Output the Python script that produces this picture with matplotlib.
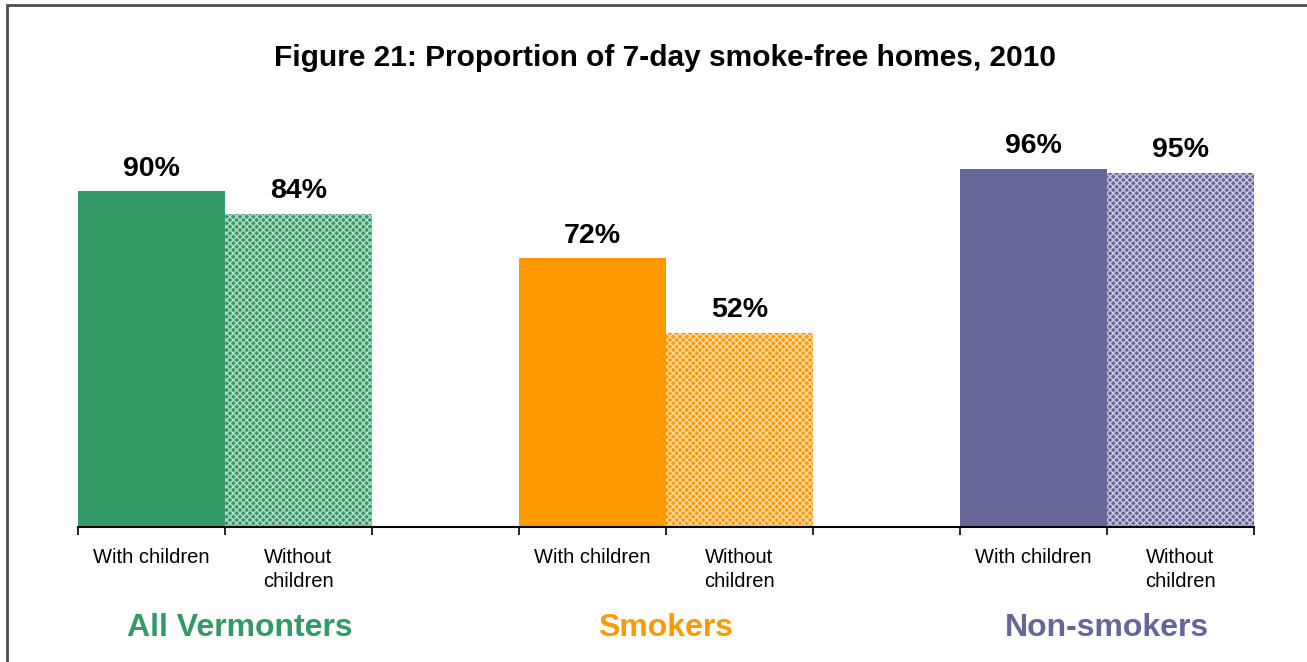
import matplotlib
matplotlib.use('Agg')
import matplotlib.pyplot as plt
from matplotlib.patches import Rectangle

plt.rcParams['font.family'] = ['Liberation Sans', 'DejaVu Sans']
plt.rcParams['hatch.linewidth'] = 1.0

groups = ['All Vermonters', 'Smokers', 'Non-smokers']
bar_labels = ['With children', 'Without\nchildren']
with_children = [90, 72, 96]
without_children = [84, 52, 95]
colors = ['#339966', '#FF9900', '#666699']
hatch_colors = ['#b5dcc8', '#ffdca6', '#cacae0']

fig = plt.figure(figsize=(13.07, 6.62), dpi=100)
ax = fig.add_axes([78 / 1307, 135 / 662, 1176 / 1307, 373 / 662])

for i, g in enumerate(groups):
    x0 = i * 3
    ax.bar(x0, with_children[i], width=1.0, color=colors[i], linewidth=0)
    ax.bar(x0 + 1, without_children[i], width=1.0, facecolor=colors[i],
           edgecolor=hatch_colors[i], hatch='x' * 5, linewidth=0)
    for xx, v in [(x0, with_children[i]), (x0 + 1, without_children[i])]:
        ax.text(xx, v + 2.6, f'{v}%', ha='center', va='bottom',
                fontsize=20.5, fontweight='bold')
    for j, lab in enumerate(bar_labels):
        ax.text(x0 + j, -5.5, lab, ha='center', va='top', fontsize=14.5,
                linespacing=1.35, multialignment='center')
    gx = x0 + 0.5 + (0.1 if i == 0 else 0)
    ax.text(gx, -27, g, ha='center', va='center', fontsize=23,
            fontweight='bold', color=colors[i])

ax.set_xlim(-0.5, 7.5)
ax.set_ylim(0, 100)
ax.set_xticks([k - 0.5 for k in range(9)])
ax.set_xticklabels([])
ax.tick_params(axis='x', length=6, width=1.2, direction='out')
ax.set_yticks([])
for s in ['top', 'right', 'left']:
    ax.spines[s].set_visible(False)
ax.spines['bottom'].set_linewidth(1.5)

fig.text(665 / 1307, 1 - 58 / 662, 'Figure 21: Proportion of 7-day smoke-free homes, 2010',
         ha='center', va='center', fontsize=21.5, fontweight='bold')

fig.patches.append(Rectangle((7 / 1307, -0.1), 1.2, 1 - 5 / 662 + 0.1,
                             transform=fig.transFigure, fill=False,
                             edgecolor='#4d4d4d', linewidth=2))

fig.savefig('out.png', dpi=100)
